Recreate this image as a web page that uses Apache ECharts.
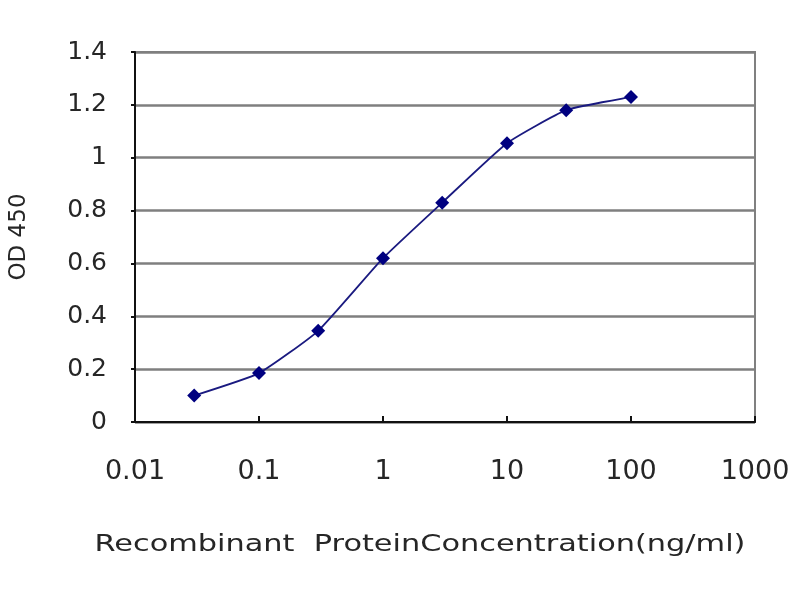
<!DOCTYPE html>
<html>
<head>
<meta charset="utf-8">
<script src="https://cdn.jsdelivr.net/npm/echarts@6/dist/echarts.min.js"></script>
<style>
  html, body { margin: 0; padding: 0; background: #fff; }
  #chart { width: 800px; height: 600px; }
</style>
</head>
<body>
<div id="chart"></div>
<script>
// Data
const concentrations = [0.03, 0.1, 0.3, 1, 3, 10, 30, 100];
const odValues = [0.10, 0.185, 0.345, 0.62, 0.83, 1.055, 1.18, 1.23];
const xTitle = 'Recombinant  ProteinConcentration(ng/ml)';
const yTitle = 'OD 450';

const textColor = '#262626';
const fontFamily = 'DejaVu Sans, Liberation Sans, Arial, sans-serif';

const chart = echarts.init(document.getElementById('chart'));

const points = concentrations.map((c, i) => [c, odValues[i]]);

chart.setOption({
    animation: false,
    backgroundColor: '#fff',
    // x title is drawn wide, like the stretched original
    graphic: [{
        type: 'text',
        x: 420,
        y: 545,
        scaleX: 1.32,
        style: {
            text: xTitle,
            fill: textColor,
            font: '23px ' + fontFamily,
            textAlign: 'center',
            textVerticalAlign: 'middle'
        }
    }],
    grid: {
        left: 133,
        right: 45,
        top: 52,
        bottom: 178,
        show: true,
        borderColor: '#808080',
        borderWidth: 2
    },
    xAxis: {
        type: 'log',
        logBase: 10,
        min: 0.01,
        max: 1000,
        axisLine: { show: true, onZero: false, lineStyle: { color: '#111', width: 2 } },
        axisTick: { show: true, inside: true, length: 6, lineStyle: { color: '#111', width: 2 } },
        minorTick: { show: false },
        splitLine: { show: false },
        axisLabel: {
            color: textColor,
            fontFamily: fontFamily,
            fontSize: 27,
            margin: 36,
            formatter: v => String(+v.toPrecision(6))
        }
    },
    yAxis: {
        type: 'value',
        min: 0,
        max: 1.4,
        interval: 0.2,
        name: yTitle,
        nameLocation: 'middle',
        nameGap: 104,
        nameTextStyle: {
            color: textColor,
            fontFamily: fontFamily,
            fontSize: 23
        },
        axisLine: { show: true, lineStyle: { color: '#111', width: 2 } },
        axisTick: { show: true, length: 4, lineStyle: { color: '#111', width: 2 } },
        splitLine: { show: true, lineStyle: { color: '#7f7f7f', width: 2.5 } },
        axisLabel: {
            color: textColor,
            fontFamily: fontFamily,
            fontSize: 25,
            margin: 28,
            formatter: v => String(+v.toFixed(1))
        }
    },
    series: [{
        type: 'line',
        data: points,
        symbol: 'diamond',
        symbolSize: 14,
        smooth: 0.15,
        lineStyle: { color: '#1a1a80', width: 1.8 },
        itemStyle: { color: '#000080' }
    }]
});
</script>
</body>
</html>
